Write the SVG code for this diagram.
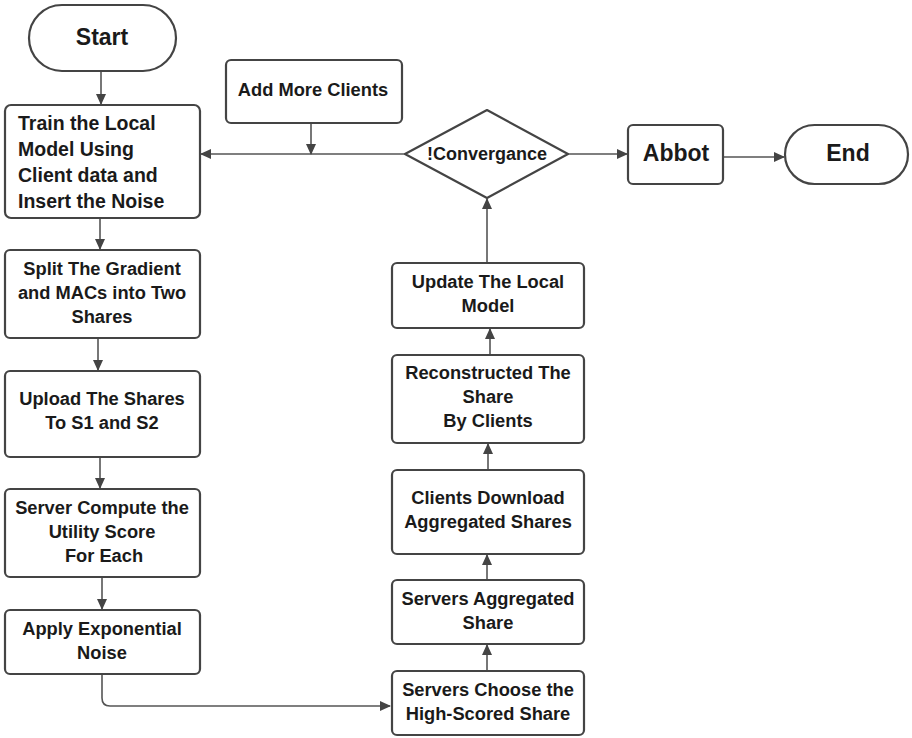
<svg xmlns="http://www.w3.org/2000/svg" width="912" height="738" viewBox="0 0 912 738">
<defs>
<marker id="ah" markerWidth="11" markerHeight="10" refX="10" refY="5" orient="auto" markerUnits="userSpaceOnUse">
<path d="M0,0 L11,5 L0,10 Z" fill="#444"/>
</marker>
</defs>
<style>
.box{fill:#fff;stroke:#444;stroke-width:2.2}
.t{font-family:"Liberation Sans",Arial,sans-serif;font-weight:bold;fill:#1a1a1a;text-anchor:middle}
.b{font-size:18.3px}
.big{font-size:23px}
.c{fill:none;stroke:#555;stroke-width:1.6}
</style>
<rect width="912" height="738" fill="#fff"/>
<g id="connectors">
<line class="c" x1="101" y1="71" x2="101" y2="104" marker-end="url(#ah)"/>
<line class="c" x1="100" y1="218" x2="100" y2="249" marker-end="url(#ah)"/>
<line class="c" x1="98" y1="338" x2="98" y2="370" marker-end="url(#ah)"/>
<line class="c" x1="100" y1="457" x2="100" y2="488" marker-end="url(#ah)"/>
<line class="c" x1="102" y1="577" x2="102" y2="609" marker-end="url(#ah)"/>
<path class="c" d="M102,674 V698 Q102,706 110,706 H390" marker-end="url(#ah)"/>
<line class="c" x1="487" y1="670" x2="487" y2="645" marker-end="url(#ah)"/>
<line class="c" x1="487" y1="580" x2="487" y2="555" marker-end="url(#ah)"/>
<line class="c" x1="488" y1="470" x2="488" y2="444" marker-end="url(#ah)"/>
<line class="c" x1="490" y1="354" x2="490" y2="329" marker-end="url(#ah)"/>
<line class="c" x1="487" y1="263" x2="487" y2="199" marker-end="url(#ah)"/>
<line class="c" x1="405" y1="154" x2="201" y2="154" marker-end="url(#ah)"/>
<line class="c" x1="311" y1="123" x2="311" y2="154" marker-end="url(#ah)"/>
<line class="c" x1="568" y1="154" x2="627" y2="154" marker-end="url(#ah)"/>
<line class="c" x1="723" y1="157" x2="784" y2="157" marker-end="url(#ah)"/>
</g>
<g id="start">
<rect class="box" x="29" y="5" width="147" height="66" rx="33"/>
<text class="t big" x="102" y="45">Start</text>
</g>
<g id="train">
<rect class="box" x="5" y="105" width="195" height="113" rx="6"/>
<text class="t" style="font-size:19.5px;text-anchor:start" x="18"><tspan x="18" y="130">Train the Local</tspan><tspan x="18" y="156">Model Using</tspan><tspan x="18" y="182">Client data and</tspan><tspan x="18" y="208">Insert the Noise</tspan></text>
</g>
<g id="addclients">
<rect class="box" x="226" y="60" width="176" height="63" rx="5"/>
<text class="t b" x="313" y="96">Add More Clients</text>
</g>
<g id="convergance">
<path class="box" d="M405,154 L487,110 L568,154 L487,198 Z" stroke-linejoin="round"/>
<text class="t" style="font-size:18px" x="487" y="160">!Convergance</text>
</g>
<g id="abbot">
<rect class="box" x="628" y="125" width="95" height="59" rx="5"/>
<text class="t big" x="676" y="161">Abbot</text>
</g>
<g id="end">
<rect class="box" x="785" y="125" width="123" height="59" rx="29.5"/>
<text class="t big" x="848" y="161">End</text>
</g>
<g id="split">
<rect class="box" x="5" y="250" width="195" height="88" rx="5"/>
<text class="t b"><tspan x="102" y="275">Split The Gradient</tspan><tspan x="102" y="299">and MACs into Two</tspan><tspan x="102" y="323">Shares</tspan></text>
</g>
<g id="upload">
<rect class="box" x="5" y="371" width="195" height="86" rx="5"/>
<text class="t b"><tspan x="102" y="405">Upload The Shares</tspan><tspan x="102" y="429">To S1 and S2</tspan></text>
</g>
<g id="compute">
<rect class="box" x="5" y="489" width="195" height="88" rx="5"/>
<text class="t b"><tspan x="102" y="514">Server Compute the</tspan><tspan x="102" y="538">Utility Score</tspan><tspan x="104" y="562">For Each</tspan></text>
</g>
<g id="apply">
<rect class="box" x="5" y="610" width="195" height="64" rx="5"/>
<text class="t b"><tspan x="102" y="635">Apply Exponential</tspan><tspan x="102" y="659">Noise</tspan></text>
</g>
<g id="update">
<rect class="box" x="392" y="263" width="192" height="65" rx="5"/>
<text class="t b"><tspan x="488" y="288">Update The Local</tspan><tspan x="488" y="312">Model</tspan></text>
</g>
<g id="reconstruct">
<rect class="box" x="392" y="355" width="192" height="88" rx="5"/>
<text class="t b"><tspan x="488" y="379">Reconstructed The</tspan><tspan x="488" y="403">Share</tspan><tspan x="488" y="427">By Clients</tspan></text>
</g>
<g id="download">
<rect class="box" x="392" y="470" width="192" height="84" rx="5"/>
<text class="t b"><tspan x="488" y="504">Clients Download</tspan><tspan x="488" y="528">Aggregated Shares</tspan></text>
</g>
<g id="aggregate">
<rect class="box" x="392" y="580" width="192" height="64" rx="5"/>
<text class="t b"><tspan x="488" y="605">Servers Aggregated</tspan><tspan x="488" y="629">Share</tspan></text>
</g>
<g id="choose">
<rect class="box" x="392" y="671" width="192" height="64" rx="5"/>
<text class="t b"><tspan x="488" y="696">Servers Choose the</tspan><tspan x="488" y="720">High-Scored Share</tspan></text>
</g>
</svg>
